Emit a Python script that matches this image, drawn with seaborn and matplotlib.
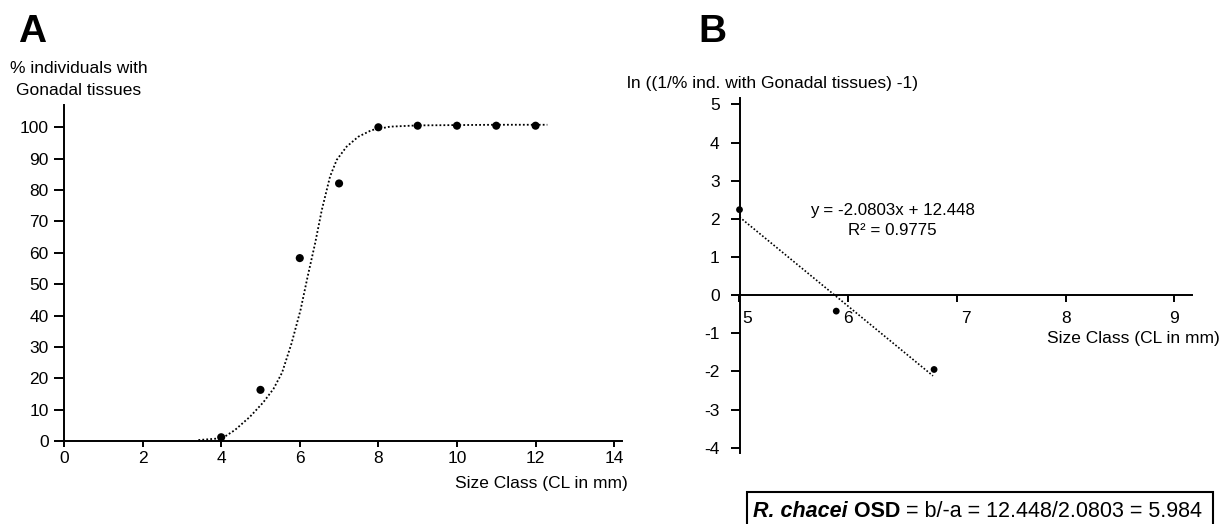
import numpy as np
import pandas as pd
import matplotlib
matplotlib.use('Agg')
import matplotlib.pyplot as plt
from matplotlib.patches import Rectangle
from matplotlib.transforms import ScaledTranslation
import seaborn as sns

# panel A: observed % with gonadal tissues per size class
size_class = [4, 5, 6, 7, 8, 9, 10, 11, 12]
pct_gonadal = [1.2, 16.3, 58.3, 82.1, 100.0, 100.5, 100.5, 100.5, 100.5]

# panel A: fitted logistic curve
fit_x = [3.42, 4.03, 4.35, 4.73, 5.07, 5.33, 5.55, 5.79, 6.02, 6.20, 6.39, 6.56,
         6.77, 6.94, 7.19, 7.49, 7.83, 8.3, 9.0, 10.0, 11.0, 12.3]
fit_y = [0.3, 0.9, 3.5, 7.7, 12.3, 16.6, 21.8, 31.1, 41.8, 52.4, 63.0, 73.6,
         84.3, 89.6, 93.8, 97.0, 99.1, 100.2, 100.6, 100.7, 100.8, 100.8]

# panel B: linearised values
lin_x = [5.0, 5.89, 6.79]
lin_y = [2.24, -0.42, -1.95]

a_xticks = [0, 2, 4, 6, 8, 10, 12, 14]
a_yticks = [0, 10, 20, 30, 40, 50, 60, 70, 80, 90, 100]
b_xticks = [5, 6, 7, 8, 9]
b_yticks = [-4, -3, -2, -1, 0, 1, 2, 3, 4, 5]

sns.set_style('ticks')
plt.rcParams['font.family'] = ['Liberation Sans', 'DejaVu Sans']
plt.rcParams['axes.linewidth'] = 1.4
plt.rcParams['axes.unicode_minus'] = False
for k in ['text.color', 'axes.labelcolor', 'xtick.color', 'ytick.color', 'axes.edgecolor']:
    plt.rcParams[k] = 'black'

W, H = 1228, 524
fig = plt.figure(figsize=(W / 100, H / 100), dpi=100)

def px(x0, y0, x1, y1):
    # pixel box -> figure fraction rect
    return [x0 / W, (H - y1) / H, (x1 - x0) / W, (y1 - y0) / H]

dots = (0, (1, 1.2))

# ---------- panel A ----------
axA = fig.add_axes(px(64, 105, 622, 441))
sns.lineplot(x=fit_x, y=fit_y, ax=axA, color='black', lw=1.3, linestyle=dots)
sns.scatterplot(x=size_class, y=pct_gonadal, ax=axA, color='black', s=34,
                edgecolor='none', zorder=3, clip_on=False)
axA.set_xlim(0, 14.2)
axA.set_ylim(0, 107.1)
axA.set_xticks(a_xticks)
axA.set_yticks(a_yticks)
axA.tick_params(axis='x', length=4.5, width=1.4, pad=3, labelsize=12.5)
axA.tick_params(axis='y', length=7.5, width=1.4, pad=3.5, labelsize=12.5)
sns.despine(ax=axA)
axA.set_xlabel('')
axA.set_ylabel('')

fig.text(79 / W, (H - 73) / H, '% individuals with', ha='center', va='baseline', fontsize=12.5)
fig.text(79 / W, (H - 95) / H, 'Gonadal tissues', ha='center', va='baseline', fontsize=12.5)
fig.text(628 / W, (H - 488) / H, 'Size Class (CL in mm)', ha='right', va='baseline', fontsize=12.5)
fig.text(18 / W, (H - 42) / H, 'A', fontsize=28, fontweight='bold', va='baseline')

# ---------- panel B ----------
axB = fig.add_axes(px(739.5, 98.3, 1191.7, 453))
coef = np.polyfit(lin_x, lin_y, 1)
line_x = np.linspace(min(lin_x), max(lin_x) - 0.01, 20)
sns.lineplot(x=line_x, y=np.polyval(coef, line_x), ax=axB, color='black', lw=1.2, linestyle=dots)
sns.scatterplot(x=lin_x, y=lin_y, ax=axB, color='black', s=24, edgecolor='none',
                zorder=3, clip_on=False)
axB.set_xlim(5, 9.16)
axB.set_ylim(-4.14, 5.16)
axB.set_xticks(b_xticks)
axB.set_yticks(b_yticks)
axB.spines['bottom'].set_position(('data', 0))
sns.despine(ax=axB)
axB.tick_params(axis='x', length=4.8, width=1.4, pad=6.5, labelsize=12.5)
axB.tick_params(axis='y', length=6.3, width=1.4, pad=8, labelsize=12.5)
axB.set_xlabel('')
axB.set_ylabel('')
# nudge the 5 and 7 labels to the right like the original
for lab, dx in zip(axB.get_xticklabels(), [8, 0, 9, 0, 0]):
    lab.set_transform(lab.get_transform() + ScaledTranslation(dx / 100, 0, fig.dpi_scale_trans))

fig.text(627 / W, (H - 88.3) / H, 'ln ((1/% ind. with Gonadal tissues) -1)', ha='left',
         va='baseline', fontsize=12.5)
fig.text(892 / W, (H - 215) / H, 'y = -2.0803x + 12.448', ha='center', va='baseline', fontsize=12.2)
fig.text(892 / W, (H - 235) / H, 'R² = 0.9775', ha='center', va='baseline', fontsize=12.2)
fig.text(1220 / W, (H - 343.3) / H, 'Size Class (CL in mm)', ha='right', va='baseline', fontsize=12.5)
fig.text(698 / W, (H - 42) / H, 'B', fontsize=28, fontweight='bold', va='baseline')

# ---------- OSD box ----------
fig.patches.append(Rectangle((747.3 / W, -0.01), (1212.7 - 747.3) / W, (H - 491.7) / H + 0.01,
                             transform=fig.transFigure, fill=False, lw=1.5, ec='black'))
t1 = fig.text(753 / W, (H - 516.7) / H, 'R. chacei', fontsize=15.5, fontweight='bold',
              fontstyle='italic', va='baseline')
t2 = axB.annotate(' OSD', xy=(1, 0), xycoords=t1, fontsize=15.5, fontweight='bold',
                  va='bottom', ha='left', annotation_clip=False)
t3 = axB.annotate(' = b/-a = 12.448/2.0803 = 5.984', xy=(1, 0), xycoords=t2, fontsize=15.5,
                  va='bottom', ha='left', annotation_clip=False)

fig.savefig('out.png', dpi=100)
